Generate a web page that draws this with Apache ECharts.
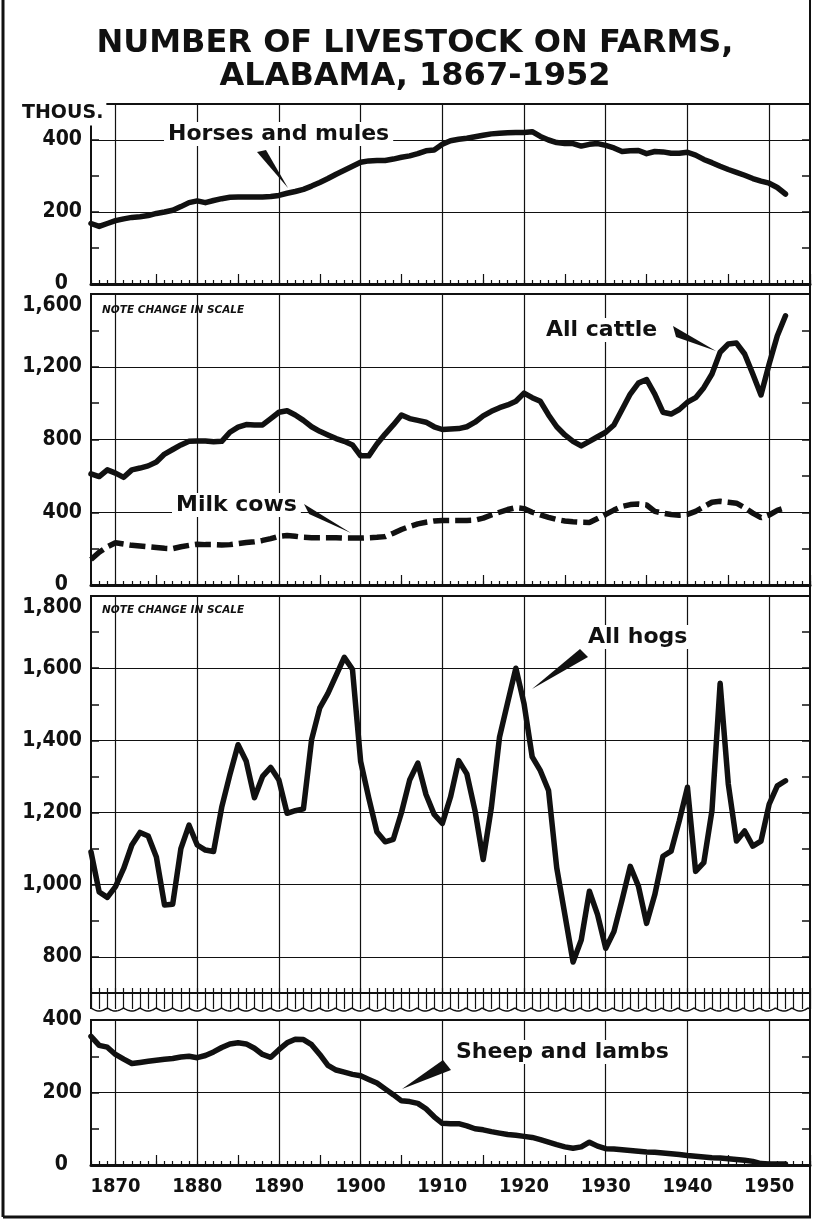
<!DOCTYPE html>
<html>
<head>
<meta charset="utf-8">
<title>Number of livestock on farms, Alabama, 1867-1952</title>
<script src="https://cdn.jsdelivr.net/npm/echarts@6/dist/echarts.min.js"></script>
<style>
  html, body { margin: 0; padding: 0; background: #fff; }
  #chart { width: 830px; height: 1224px; }
</style>
</head>
<body>
<div id="chart"></div>
<script>
// years on the shared x axis (data runs 1867-1952, axis runs on to 1955)
const YEARS = [];
for (let y = 1867; y <= 1955; y++) YEARS.push(String(y));

// thousands head, one value per year from 1867
const horsesMules = [
  168, 160, 168, 176, 181, 185, 187, 190, 196, 200,
  205, 215, 226, 231, 226, 232, 237, 241, 242, 242,
  242, 242, 243, 246, 252, 257, 263, 272, 282, 293,
  305, 316, 327, 338, 342, 343, 343, 347, 352, 356,
  362, 370, 372, 388, 398, 402, 405, 409, 413, 417,
  419, 420, 421, 421, 423, 410, 400, 393, 390, 390,
  383, 388, 390, 385, 378, 368, 370, 371, 362, 368,
  367, 363, 363, 366, 358, 346, 337, 327, 318, 310,
  302, 293, 286, 280, 268, 250
];
const allCattle = [
  611, 596, 633, 615, 592, 633, 643, 655, 676, 720,
  745, 770, 790, 792, 792, 788, 790, 840, 868, 882,
  880, 880, 915, 950, 958, 935, 905, 870, 845, 825,
  805, 790, 770, 710, 710, 775, 830, 880, 935, 915,
  905, 895, 870, 855, 858, 860, 870, 895, 930, 955,
  975, 990, 1010, 1055, 1030, 1010, 935, 870, 825, 790,
  765, 790, 815, 840, 880, 965, 1050, 1110, 1130, 1050,
  950, 940, 965, 1005, 1030, 1085, 1160, 1280, 1325, 1330,
  1270, 1160, 1045, 1215, 1370, 1480
];
const milkCows = [
  140, 180, 210, 232, 225, 218, 214, 210, 206, 202,
  200, 210, 218, 224, 222, 222, 220, 222, 228, 234,
  238, 245, 255, 268, 272, 268, 262, 260, 260, 260,
  260, 258, 258, 258, 260, 262, 266, 285, 305, 322,
  336, 345, 352, 355, 355, 355, 355, 357, 368, 385,
  400, 415, 425, 420, 400, 385, 372, 360, 352, 348,
  345, 344, 365, 388, 412, 432, 442, 445, 440, 405,
  395, 388, 384, 388, 405, 430, 455, 460, 455, 450,
  425, 395, 370, 385, 410, 425
];
const allHogs = [
  1091, 980, 965, 995, 1045, 1110, 1145, 1135, 1077, 944,
  946, 1100, 1165, 1110, 1096, 1092, 1215, 1305, 1388, 1342,
  1241, 1300, 1325, 1290, 1198, 1205, 1210, 1402, 1490, 1530,
  1580, 1630, 1597, 1342, 1240, 1146, 1119, 1126, 1200, 1290,
  1337, 1250, 1195, 1170, 1243, 1344, 1307, 1205, 1070, 1214,
  1409, 1505, 1600, 1502, 1354, 1316, 1261, 1047, 917, 786,
  847, 982, 917, 824, 870, 958, 1051, 996, 893, 972,
  1079, 1093, 1177, 1270, 1037, 1061, 1205, 1558, 1279, 1121,
  1149, 1107, 1121, 1223, 1274, 1288
];
const sheepLambs = [
  355, 330, 325, 305, 292, 280, 283, 286, 289, 292,
  294, 298, 300, 296, 302, 312, 324, 334, 337, 334,
  322, 305, 297, 318, 337, 347, 346, 332, 305, 275,
  262, 256, 250, 246, 236, 226, 210, 194, 177, 175,
  170, 155, 133, 115, 114, 114, 108, 100, 97, 92,
  88, 84, 82, 79, 76, 70, 63, 56, 50, 46,
  50, 63, 52, 45, 44, 42, 40, 38, 36, 35,
  33, 31, 29, 26, 24, 22, 20, 19, 17, 15,
  13, 10, 4, 3, 3, 3
];

const INK = '#111';
const NONE = 'rgba(0,0,0,0)';
const SANS = "'DejaVu Sans', sans-serif";
const COND = "'DejaVu Sans Condensed', 'Liberation Sans Narrow', 'DejaVu Sans', sans-serif";

// panel layout: y range, minor tick step, labelled gridline step
const PANELS = [
  { top: 104, height: 180, min: 0, max: 500, step: 100, major: 200, hideTop: true },
  { top: 294, height: 291, min: 0, max: 1600, step: 200, major: 400, shiftTop: true },
  { top: 596, height: 397, min: 700, max: 1800, step: 100, major: 200, shiftTop: true, broken: true },
  { top: 1020, height: 145, min: 0, max: 400, step: 100, major: 200, years: true }
];

function fmt(v) {
  return v >= 1000 ? Math.floor(v / 1000) + ',' + String(v % 1000).padStart(3, '0') : String(v);
}

const labelFont = { fontFamily: COND, fontSize: 21, fontWeight: 'bold', color: INK };

function yLabel(p) {
  return function (v) {
    if (v % p.major !== 0) return '';
    if (v === p.max) {
      if (p.hideTop) return '';
      return p.shiftTop ? '{top|' + fmt(v) + '}' : fmt(v);
    }
    if (v === 0) return '{zero|0}';
    return fmt(v);
  };
}

const grids = [], xAxes = [], yAxes = [];
PANELS.forEach(function (p, g) {
  grids.push({
    left: 91, right: 20, top: p.top, height: p.height,
    show: true, borderColor: INK, borderWidth: 2, backgroundColor: NONE
  });
  xAxes.push({
    type: 'category', gridIndex: g, data: YEARS, boundaryGap: false, position: 'bottom',
    axisLine: { show: true, onZero: false, lineStyle: { color: INK, width: p.broken ? 1.5 : 3 } },
    axisTick: { show: true, interval: 0, inside: !p.broken, length: p.broken ? 16 : 4, lineStyle: { color: INK, width: 1.2 } },
    axisLabel: {
      show: !!p.years, margin: 12, fontSize: 20, fontFamily: COND, fontWeight: 'bold', color: INK,
      interval: function (i, v) { return Number(v) % 10 === 0; }
    },
    splitLine: { show: true, interval: function (i, v) { return Number(v) % 10 === 0; }, lineStyle: { color: INK, width: 1.2 } }
  });
  // second set of ticks on the same bottom edge (half-decade marks)
  xAxes.push({
    type: 'category', gridIndex: g, data: YEARS, boundaryGap: false, position: 'top', offset: -p.height,
    axisLine: { show: false, onZero: false },
    axisLabel: { show: false },
    splitLine: { show: false },
    axisTick: {
      show: true, inside: false, length: p.broken ? 5 : 10,
      interval: p.broken ? 0 : function (i, v) { const y = Number(v); return y % 5 === 0 && y % 10 !== 0; },
      lineStyle: { color: INK, width: 1.2 }
    }
  });
  const firstMajor = (Math.ceil(p.min / p.major) * p.major - p.min) / p.step;
  yAxes.push({
    type: 'value', gridIndex: g, position: 'left', min: p.min, max: p.max, interval: p.step,
    axisLine: { show: false },
    axisTick: { show: true, inside: true, length: 8, lineStyle: { color: INK, width: 1.5 } },
    axisLabel: Object.assign({
      formatter: yLabel(p), margin: 9,
      rich: {
        top: Object.assign({ padding: [24, 0, 0, 0] }, labelFont),
        zero: Object.assign({ padding: [0, 14, 0, 0] }, labelFont)
      }
    }, labelFont),
    splitLine: { show: true, lineStyle: { color: firstMajor === 0 ? [INK, NONE] : [NONE, INK], width: 1.2 } }
  });
  yAxes.push({
    type: 'value', gridIndex: g, position: 'right', min: p.min, max: p.max, interval: p.step,
    axisLine: { show: false },
    axisTick: { show: true, inside: true, length: 8, lineStyle: { color: INK, width: 1.5 } },
    axisLabel: { show: false },
    splitLine: { show: false }
  });
});

function lineSeries(name, data, g, extra) {
  return Object.assign({
    name: name, type: 'line', data: data,
    xAxisIndex: 2 * g, yAxisIndex: 2 * g,
    symbol: 'none', silent: true, z: 5,
    lineStyle: { color: INK, width: 5.5, join: 'round', cap: 'round' }
  }, extra || {});
}

// wavy "break" edge under the hog panel
const brk = PANELS[2].top + PANELS[2].height;
const wave = [];
for (let x = 91; x <= 810; x += 1) {
  wave.push([x, brk + 15 + 3 * Math.abs(Math.sin(Math.PI * (x - 91) / 16.3))]);
}

const annFont = 'bold 22px ' + SANS;
function note(text, x, y) {
  return { type: 'text', x: x, y: y, z: 20, style: { text: text, font: annFont, fill: INK, textVerticalAlign: 'middle', backgroundColor: '#fff', padding: [1, 4] } };
}
function wedge(points) {
  return { type: 'polygon', z: 20, shape: { points: points }, style: { fill: INK } };
}

const graphics = [
  { type: 'text', x: 415, y: 28, style: { text: 'NUMBER OF LIVESTOCK ON FARMS,', font: 'bold 32px ' + SANS, fill: INK, textAlign: 'center' } },
  { type: 'text', x: 415, y: 61, style: { text: 'ALABAMA, 1867-1952', font: 'bold 32px ' + SANS, fill: INK, textAlign: 'center' } },
  { type: 'text', x: 19, y: 113, z: 20, style: { text: 'THOUS.', font: 'bold 19px ' + SANS, fill: INK, textVerticalAlign: 'middle', backgroundColor: '#fff', padding: [3, 3] } },
  { type: 'text', x: 102, y: 310, z: 20, style: { text: 'NOTE CHANGE IN SCALE', font: 'italic bold 10.5px ' + SANS, fill: INK, textVerticalAlign: 'middle' } },
  { type: 'text', x: 102, y: 610, z: 20, style: { text: 'NOTE CHANGE IN SCALE', font: 'italic bold 10.5px ' + SANS, fill: INK, textVerticalAlign: 'middle' } },
  note('Horses and mules', 164, 134),
  wedge([[257, 152], [266, 150], [288, 188]]),
  note('All cattle', 542, 330),
  wedge([[673, 326], [676, 337], [716, 351]]),
  note('Milk cows', 172, 505),
  wedge([[304, 504], [309, 514], [351, 533]]),
  note('All hogs', 584, 637),
  wedge([[580, 649], [588, 657], [532, 689]]),
  note('Sheep and lambs', 452, 1052),
  wedge([[443, 1060], [451, 1070], [402, 1089]]),
  { type: 'polyline', z: 10, shape: { points: wave }, style: { stroke: INK, lineWidth: 1.5, fill: null } },
  { type: 'line', z: 10, shape: { x1: 91, y1: brk, x2: 91, y2: brk + 16 }, style: { stroke: INK, lineWidth: 2 } },
  { type: 'line', z: 10, shape: { x1: 3, y1: 0, x2: 3, y2: 1217 }, style: { stroke: INK, lineWidth: 3 } },
  { type: 'line', z: 10, shape: { x1: 810, y1: 0, x2: 810, y2: 1217 }, style: { stroke: INK, lineWidth: 2 } },
  { type: 'line', z: 10, shape: { x1: 3, y1: 1217, x2: 811, y2: 1217 }, style: { stroke: INK, lineWidth: 3 } }
];

const chart = echarts.init(document.getElementById('chart'), null, { renderer: 'canvas' });
chart.setOption({
  animation: false,
  backgroundColor: '#fff',
  grid: grids,
  xAxis: xAxes,
  yAxis: yAxes,
  series: [
    lineSeries('Horses and mules', horsesMules, 0),
    lineSeries('All cattle', allCattle, 1),
    lineSeries('Milk cows', milkCows, 1, { lineStyle: { color: INK, width: 5.5, type: [16, 6], cap: 'butt' } }),
    lineSeries('All hogs', allHogs, 2),
    lineSeries('Sheep and lambs', sheepLambs, 3)
  ],
  graphic: graphics
});
</script>
</body>
</html>
